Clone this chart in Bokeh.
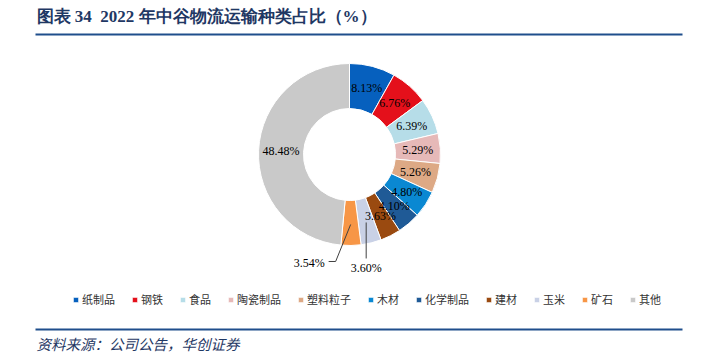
import numpy as np
from bokeh.plotting import figure
from bokeh.models import ColumnDataSource, Range1d, Legend, LegendItem, Label, BoxAnnotation
from bokeh.core.properties import value
from bokeh.embed import file_html
from bokeh.resources import INLINE

# ---- data ----
categories = ["纸制品", "钢铁", "食品", "陶瓷制品", "塑料粒子", "木材", "化学制品", "建材", "玉米", "矿石", "其他"]
shares = [8.13, 6.76, 6.39, 5.29, 5.26, 4.80, 4.10, 3.63, 3.60, 3.54, 48.48]
colors = ["#0660BE", "#E4101B", "#B6DDE8", "#E6B9B8", "#DDA985", "#0A88D2",
          "#1F5A96", "#9A4A10", "#C9D1E6", "#F79646", "#C9C9C9"]
outside_labels = ["玉米", "矿石"]
title_text = "图表 34\u00a0\u00a02022 年中谷物流运输种类占比（%）"
source_text = "资料来源：公司公告，华创证券"

# ---- layout / style ----
W, H = 709, 356
cx, cy = 349, H - 154
r_out, r_in = 91, 46
r_lab = 68.5
NAVY = "#1F3864"
SERIF = "Liberation Serif"
CJK = "Noto Sans CJK SC"

vals = np.array(shares, dtype=float)
frac = vals / vals.sum()
cum = np.cumsum(frac)
start = np.pi / 2 - 2 * np.pi * (cum - frac)
end = np.pi / 2 - 2 * np.pi * cum
mid = (start + end) / 2
labels = [f"{v:.2f}%" for v in shares]

p = figure(width=W, height=H, output_backend="svg", toolbar_location=None,
           x_range=Range1d(0, W), y_range=Range1d(0, H), min_border=0)
p.axis.visible = False
p.grid.visible = False
p.outline_line_color = None
p.background_fill_color = "white"
p.border_fill_color = "white"

items = []
for i, cat in enumerate(categories):
    src = ColumnDataSource(dict(x=[cx], y=[cy], s=[start[i]], e=[end[i]]))
    r = p.annular_wedge(x="x", y="y", inner_radius=r_in, outer_radius=r_out,
                        start_angle="s", end_angle="e", direction="clock",
                        fill_color=colors[i], line_color="white", line_width=1,
                        source=src)
    items.append(LegendItem(label=cat, renderers=[r]))

# inside labels
ins = [i for i, c in enumerate(categories) if c not in outside_labels]
lab_src = ColumnDataSource(dict(
    x=[cx + r_lab * np.cos(mid[i]) for i in ins],
    y=[cy + r_lab * np.sin(mid[i]) for i in ins],
    t=[labels[i] for i in ins]))
p.text(x="x", y="y", text="t", source=lab_src, text_font=value(SERIF),
       text_font_size="12px", text_align="center", text_baseline="middle",
       text_color="black")

# outside labels with leader lines
r_anchor = 70
i60 = categories.index("玉米")
ax, ay = cx + r_anchor * np.cos(mid[i60]), cy + r_anchor * np.sin(mid[i60])
p.line(x=[ax, ax], y=[ay, ay - 36], line_color="#404040", line_width=1)
p.text(x=[ax], y=[ay - 46], text=[labels[i60]], text_font=value(SERIF),
       text_font_size="12px", text_align="center", text_baseline="middle")

i54 = categories.index("矿石")
bx, by = cx + r_anchor * np.cos(mid[i54]), cy + r_anchor * np.sin(mid[i54])
p.line(x=[bx, bx - 15, bx - 22], y=[by, by - 37, by - 37], line_color="#404040", line_width=1)
p.text(x=[bx - 26], y=[by - 39], text=[labels[i54]], text_font=value(SERIF),
       text_font_size="12px", text_align="right", text_baseline="middle")

# legend
legend = Legend(items=items, orientation="horizontal", location=(72, 49),
                glyph_width=7, glyph_height=7, label_standoff=3, spacing=16,
                padding=0, margin=0, label_height=12, label_width=10,
                label_text_font=CJK, label_text_font_size="11px",
                label_text_color="#333333", border_line_color=None,
                background_fill_alpha=0)
p.add_layout(legend)

# title, rules, source
p.add_layout(Label(x=36, y=H - 16, text=title_text, text_font=SERIF,
                   text_font_size="17px", text_font_style="bold",
                   text_color=NAVY, text_baseline="middle"))
p.add_layout(BoxAnnotation(left=35, right=682, bottom=H - 35, top=H - 33,
                           fill_color="#1F4E8C", fill_alpha=1, line_color=None))
p.add_layout(BoxAnnotation(left=35, right=682, bottom=H - 330, top=H - 328,
                           fill_color="#1F4E8C", fill_alpha=1, line_color=None))
p.add_layout(Label(x=36, y=H - 343, text=source_text, text_font=CJK,
                   text_font_size="14.5px", text_font_style="italic",
                   text_color=NAVY, text_baseline="middle"))

open("out.html", "w").write(file_html(p, INLINE))
